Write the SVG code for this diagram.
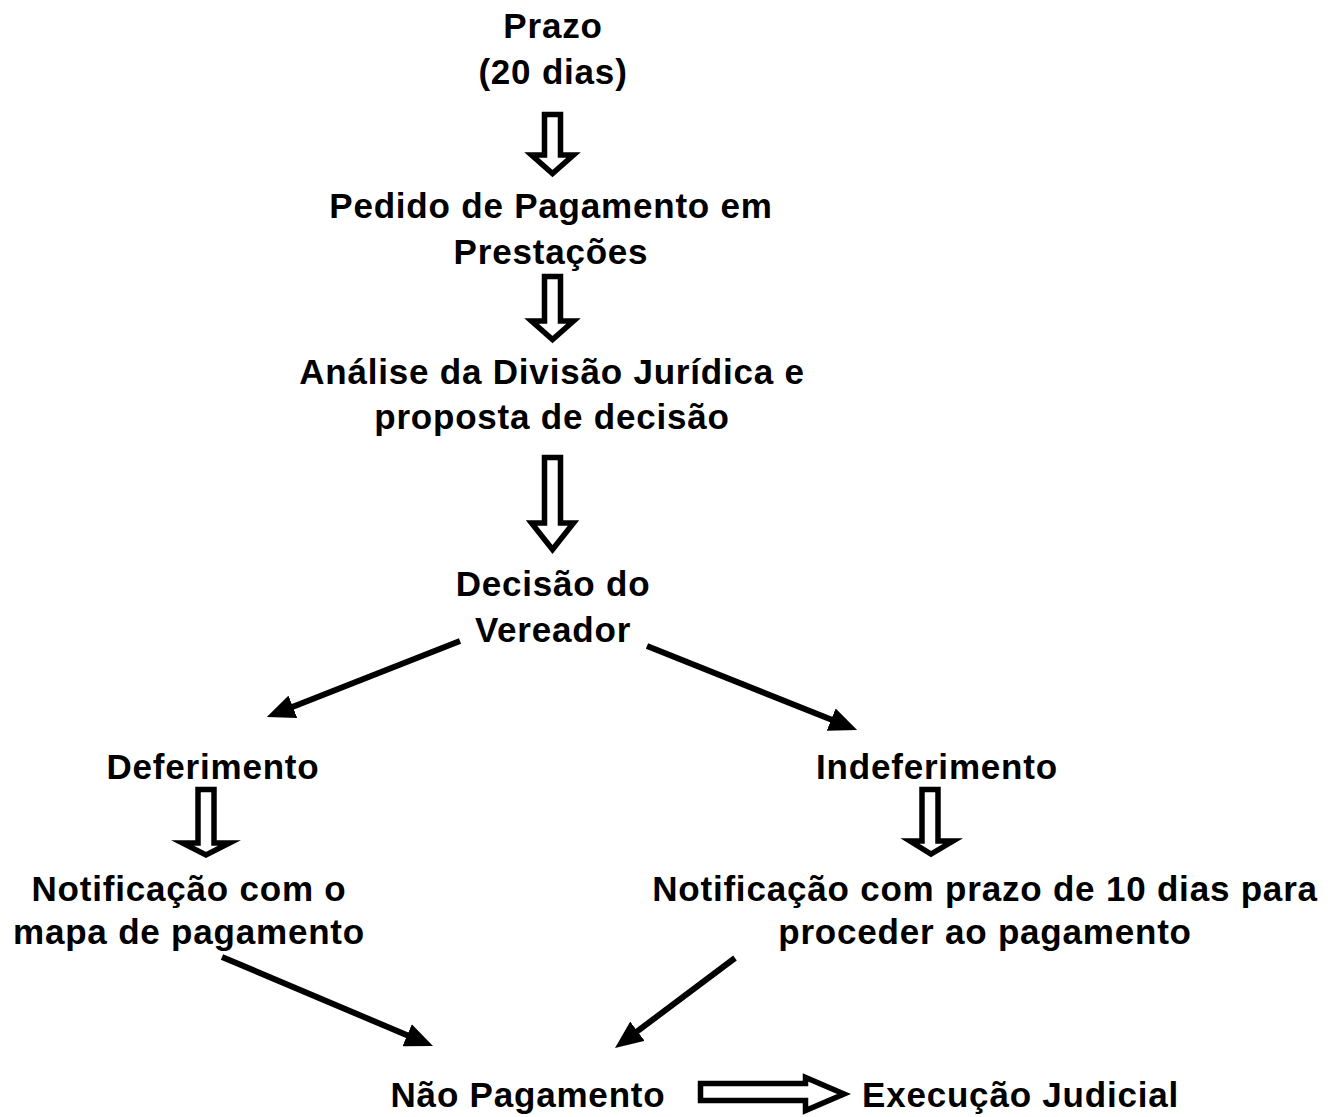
<svg xmlns="http://www.w3.org/2000/svg" width="1328" height="1117" viewBox="0 0 1328 1117">
<style>
text{font-family:"Liberation Sans",Arial,sans-serif;font-weight:bold;font-size:35px;fill:#000;text-anchor:middle;letter-spacing:0.8px}
.blk{fill:#fff;stroke:#000;stroke-width:5.5;stroke-linejoin:miter;stroke-miterlimit:10}
.ln{stroke:#000;stroke-width:6;fill:none;marker-end:url(#ah)}
</style>
<defs>
<marker id="ah" markerUnits="userSpaceOnUse" markerWidth="28" markerHeight="24" refX="2" refY="12" orient="auto">
<path d="M0,0 L28,12 L0,24 Z" fill="#000"/>
</marker>
</defs>
<rect width="1328" height="1117" fill="#fff"/>
<g id="n-prazo"><text x="553" y="38">Prazo</text><text x="553" y="84">(20 dias)</text></g>
<g id="n-pedido"><text x="551" y="218">Pedido de Pagamento em</text><text x="551" y="264">Prestações</text></g>
<g id="n-analise"><text x="552" y="384">Análise da Divisão Jurídica e</text><text x="552" y="429">proposta de decisão</text></g>
<g id="n-decisao"><text x="553" y="596">Decisão do</text><text x="553" y="642">Vereador</text></g>
<g id="n-deferimento"><text x="213" y="779">Deferimento</text></g>
<g id="n-indeferimento"><text x="937" y="779">Indeferimento</text></g>
<g id="n-notif1"><text x="189" y="901">Notificação com o</text><text x="189" y="944">mapa de pagamento</text></g>
<g id="n-notif2"><text x="985" y="901">Notificação com prazo de 10 dias para</text><text x="985" y="944">proceder ao pagamento</text></g>
<g id="n-naopag"><text x="528" y="1107">Não Pagamento</text></g>
<g id="n-exec"><text x="862" y="1107" style="text-anchor:start">Execução Judicial</text></g>
<g id="connectors">
<polygon class="blk" points="544.5,114.5 560.5,114.5 560.5,155 573.5,155 552.5,173.5 531.5,155 544.5,155"/>
<polygon class="blk" points="544.5,276.5 560.5,276.5 560.5,321 573.5,321 552.5,339.5 531.5,321 544.5,321"/>
<polygon class="blk" points="544.5,457.5 560.5,457.5 560.5,523 573.5,523 552.5,549.5 531.5,523 544.5,523"/>
<polygon class="blk" points="198,789.5 214,789.5 214,843 229.5,843 206,855 182.5,843 198,843"/>
<polygon class="blk" points="922,789.5 938,789.5 938,841 953,841 931,854 910,841 922,841"/>
<polygon class="blk" points="700.5,1083.5 805.5,1083.5 805.5,1077.5 844,1094 805.5,1110.5 805.5,1100.5 700.5,1100.5"/>
<line class="ln" x1="460" y1="641" x2="291" y2="707.5"/>
<line class="ln" x1="647" y1="646" x2="833" y2="720.3"/>
<line class="ln" x1="222" y1="957" x2="409" y2="1036"/>
<line class="ln" x1="735" y1="958" x2="635.8" y2="1032.4"/>
</g>
</svg>
